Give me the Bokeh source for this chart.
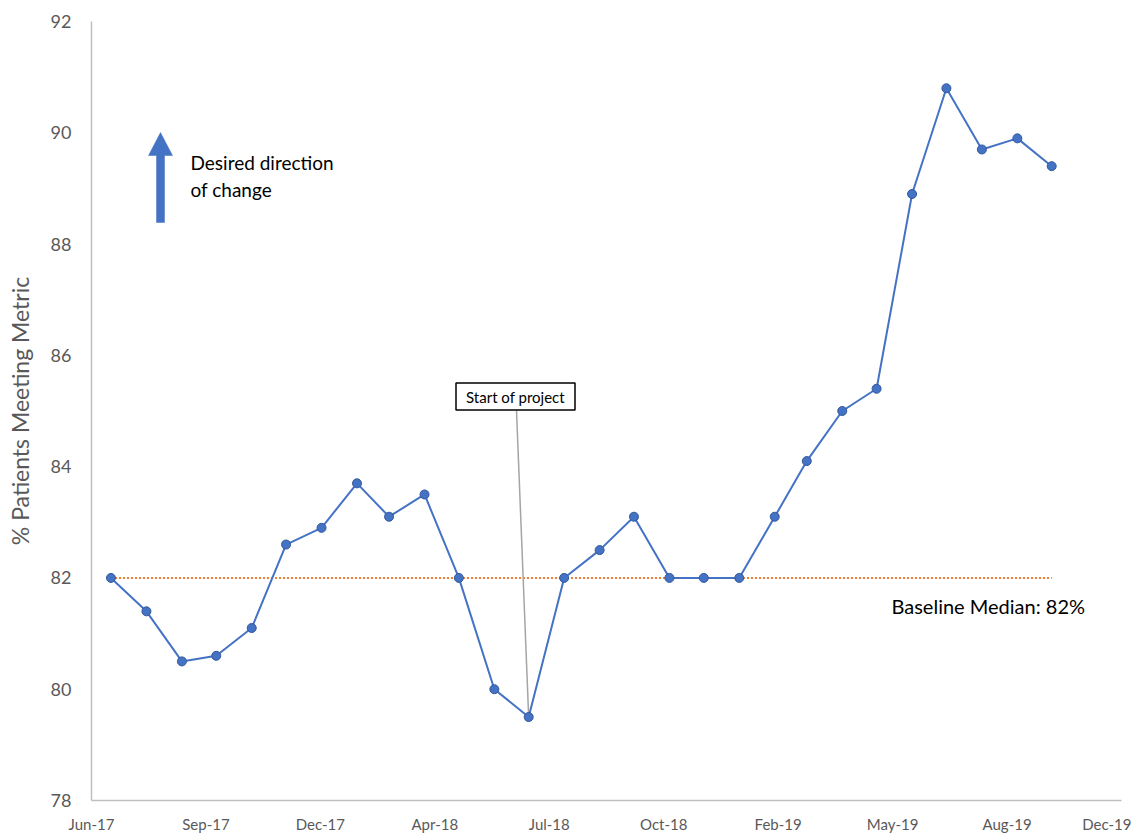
from datetime import datetime, timedelta
from bokeh.plotting import figure
from bokeh.models import Range1d, FixedTicker, DatetimeTickFormatter, Label
from bokeh.embed import file_html
from bokeh.resources import INLINE

# ---- data ----
months = ["2017-07", "2017-08", "2017-09", "2017-10", "2017-11", "2017-12",
          "2018-01", "2018-02", "2018-03", "2018-04", "2018-05", "2018-06",
          "2018-07", "2018-08", "2018-09", "2018-10", "2018-11", "2018-12",
          "2019-01", "2019-02", "2019-03", "2019-04", "2019-05", "2019-06",
          "2019-07", "2019-08", "2019-09", "2019-10"]
pct_meeting = [82.0, 81.4, 80.5, 80.6, 81.1, 82.6, 82.9, 83.7, 83.1, 83.5,
               82.0, 80.0, 79.5, 82.0, 82.5, 83.1, 82.0, 82.0, 82.0, 83.1,
               84.1, 85.0, 85.4, 88.9, 90.8, 89.7, 89.9, 89.4]
baseline_median = 82.0
y_ticks = [78, 80, 82, 84, 86, 88, 90, 92]
project_start_month = "2018-07"

dates = [datetime.strptime(m + "-01", "%Y-%m-%d") for m in months]

x_start = datetime(2017, 6, 14)
x_end = datetime(2019, 12, 1)
tick_dates = [x_start + timedelta(days=100 * k) for k in range(10)]
epoch = datetime(1970, 1, 1)
def ms(d):
    return (d - epoch).total_seconds() * 1000.0

FONT = "Lato"
GREY = "#595959"

FRAME_L, FRAME_T, FRAME_W, FRAME_H = 93, 22, 1030, 779
Y0, Y1 = 78, 92
TOTAL_DAYS = (x_end - x_start).days

def px_to_x(px):
    return x_start + timedelta(days=(px - FRAME_L) / FRAME_W * TOTAL_DAYS)

def py_to_y(py):
    return Y1 - (py - FRAME_T) / FRAME_H * (Y1 - Y0)

p = figure(frame_width=FRAME_W, frame_height=FRAME_H, x_axis_type="datetime",
           x_range=Range1d(ms(x_start), ms(x_end)), y_range=Range1d(Y0, Y1),
           output_backend="svg", toolbar_location=None,
           min_border_left=91, min_border_right=10, min_border_top=21, min_border_bottom=32)
p.outline_line_color = None
p.xgrid.visible = False
p.ygrid.visible = False
p.background_fill_color = "white"

# axes
p.xaxis.ticker = FixedTicker(ticks=[ms(d) for d in tick_dates])
fmt = "%b-%y"
p.xaxis.formatter = DatetimeTickFormatter(milliseconds=fmt, seconds=fmt, minsec=fmt, minutes=fmt,
                                          hourmin=fmt, hours=fmt, days=fmt, months=fmt, years=fmt)
p.yaxis.ticker = FixedTicker(ticks=y_ticks)
for ax in (p.xaxis[0], p.yaxis[0]):
    ax.axis_line_color = "#BFBFBF"
    ax.axis_line_width = 1.5
    ax.major_tick_line_color = None
    ax.minor_tick_line_color = None
    ax.major_tick_out = 0
    ax.major_tick_in = 0
    ax.minor_tick_out = 0
    ax.major_label_text_font = FONT
    ax.major_label_text_color = GREY
p.xaxis.major_label_text_font_size = "15px"
p.xaxis.major_label_standoff = 14
p.yaxis.major_label_text_font_size = "18px"
p.yaxis.major_label_standoff = 20
p.yaxis.axis_label = "% Patients Meeting Metric"
p.yaxis.axis_label_text_font = FONT
p.yaxis.axis_label_text_font_size = "23px"
p.yaxis.axis_label_text_font_style = "normal"
p.yaxis.axis_label_text_color = GREY
p.yaxis.axis_label_standoff = 14

# baseline median
p.line([dates[0], dates[-1]], [baseline_median, baseline_median],
       line_color="#ED7D31", line_width=2, line_dash="2 2")
p.add_layout(Label(x=ms(px_to_x(893)), y=py_to_y(606), text="Baseline Median: 82%",
                   text_font=FONT, text_font_size="20px", text_color="black",
                   text_align="left", text_baseline="middle"))

# start of project callout
ps_idx = months.index(project_start_month)
p.segment(x0=[px_to_x(518)], y0=[py_to_y(411)], x1=[dates[ps_idx]], y1=[pct_meeting[ps_idx]],
          line_color="#A5A5A5", line_width=1.5)
p.rect(x=[px_to_x(517)], y=[py_to_y(397)], width=119, height=27,
       width_units="screen", height_units="screen",
       fill_color="white", line_color="black", line_width=1.5)
p.add_layout(Label(x=ms(px_to_x(517)), y=py_to_y(397.5), text="Start of project",
                   text_font=FONT, text_font_size="15px", text_color="black",
                   text_align="center", text_baseline="middle"))

# series
p.line(dates, pct_meeting, line_color="#4472C4", line_width=2)
p.scatter(dates, pct_meeting, size=9, fill_color="#4472C4", line_color="#34589A", line_width=1)

# desired direction arrow
ax_px = [162, 174, 166, 166, 158, 158, 150]
ay_px = [133, 156, 156, 223, 223, 156, 156]
p.patch([px_to_x(v) for v in ax_px], [py_to_y(v) for v in ay_px],
        fill_color="#4472C4", line_color="#4472C4", line_width=0.5)
p.add_layout(Label(x=ms(px_to_x(192)), y=py_to_y(163), text="Desired direction",
                   text_font=FONT, text_font_size="19px", text_color="black",
                   text_align="left", text_baseline="middle"))
p.add_layout(Label(x=ms(px_to_x(192)), y=py_to_y(190), text="of change",
                   text_font=FONT, text_font_size="19px", text_color="black",
                   text_align="left", text_baseline="middle"))

open("out.html", "w").write(file_html(p, INLINE))
